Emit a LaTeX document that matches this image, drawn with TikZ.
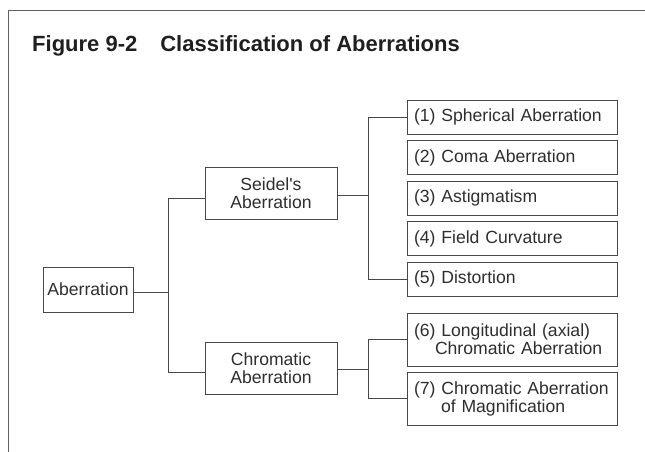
\documentclass[tikz,border=0pt]{standalone}
\usepackage{fontspec}
\setmainfont{Liberation Sans}
\begin{document}
\begin{tikzpicture}[x=1pt,y=-1pt,
  ln/.style={draw=black!72, line width=0.9pt},
  box/.style={ln, rectangle, inner sep=0pt, text=black!82,
    font=\fontsize{17.6}{18}\selectfont},
  cbox/.style={box, align=center, minimum width=132pt, minimum height=52pt},
  lbox/.style={box, align=left, text width=196pt, inner xsep=7pt,
    minimum height=34pt},
  conn/.style={draw=black!72, line width=0.9pt}]
\useasboundingbox (0,0) rectangle (645,452);
% frame
\draw[draw=black!62, line width=0.9pt] (8,452) -- (8,10.5) -- (645,10.5);
% title
\node[anchor=base west, inner sep=0pt, text=black!88,
  font=\bfseries\fontsize{22}{24}\selectfont] (title) at (32,52)
  {Figure 9-2\hspace{23pt}Classification of Aberrations};
% nodes
\node[box, minimum width=90pt, minimum height=45pt] (ab) at (88,289.5) {Aberration};
\node[cbox] (sei) at (271,193) {Seidel\textquotesingle s\\Aberration};
\node[cbox] (chr) at (271,368) {Chromatic\\Aberration};
\node[lbox] (s1) at (512,117) {(1) Spherical Aberration};
\node[lbox] (s2) at (512,157.5) {(2) Coma Aberration};
\node[lbox] (s3) at (512,198) {(3) Astigmatism};
\node[lbox] (s4) at (512,238.5) {(4) Field Curvature};
\node[lbox] (s5) at (512,279) {(5) Distortion};
\node[lbox, minimum height=53pt] (s6) at (512,339.5)
  {(6) Longitudinal (axial)\\\hspace*{21pt}Chromatic Aberration};
\node[lbox, minimum height=53pt] (s7) at (512,398.5)
  {(7) Chromatic Aberration\\\hspace*{27pt}of Magnification};
% bus coordinates and connector end points
\coordinate (busA) at (168,0);
\coordinate (busB) at (368,0);
\coordinate (abE) at ([yshift=-2.5pt]ab.east);
\coordinate (seiW) at ([yshift=-5pt]sei.west);
\coordinate (chrW) at ([yshift=-4pt]chr.west);
\coordinate (seiE) at ([yshift=-2pt]sei.east);
\coordinate (chrE) at ([yshift=-1pt]chr.east);
% connectors: Aberration -> Seidel / Chromatic
\draw[conn] (abE) -- (abE -| busA);
\draw[conn] (seiW) -| (busA |- chrW) -- (chrW);
% Seidel -> (1)..(5)
\draw[conn] (seiE) -- (seiE -| busB);
\draw[conn] (s1.west) -| (busB |- s5.west) -- (s5.west);
% Chromatic -> (6),(7)
\draw[conn] (chrE) -- (chrE -| busB);
\draw[conn] (s6.west) -| (busB |- s7.west) -- (s7.west);
\end{tikzpicture}
\end{document}
